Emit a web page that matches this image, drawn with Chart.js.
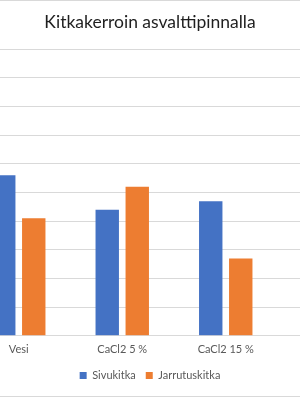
<!DOCTYPE html>
<html lang="fi">
<head>
<meta charset="UTF-8">
<title>Kitkakerroin asvalttipinnalla</title>
<script src="https://cdn.jsdelivr.net/npm/chart.js@4/dist/chart.umd.min.js"></script>
<style>
    * { margin: 0; padding: 0; box-sizing: border-box; }
    body { width: 300px; height: 397px; overflow: hidden; background: #fff; position: relative; }
    /* the chart is wider than the window: y axis and right edge are cut off like in the picture */
    #wrap { position: absolute; left: -81px; top: 0; width: 462px; height: 397px; }
</style>
</head>
<body>
<div id="wrap"><canvas id="chart" width="462" height="397"></canvas></div>
<script>
    // Data (y axis 0 ... 1, step 0.1)
    const categories = ['Vesi', 'CaCl2 5 %', 'CaCl2 15 %', ''];
    const sivukitka = [0.56, 0.44, 0.47, null];
    const jarrutuskitka = [0.41, 0.52, 0.27, null];

    const textColor = '#595959';
    const gridColor = '#d9d9d9';

    // thin frame lines at top and bottom of the chart box
    const framePlugin = {
        id: 'frame',
        afterDraw(chart) {
            const ctx = chart.ctx;
            ctx.save();
            ctx.strokeStyle = gridColor;
            ctx.lineWidth = 1;
            ctx.beginPath();
            ctx.moveTo(0, 0.5);
            ctx.lineTo(chart.width, 0.5);
            ctx.moveTo(0, chart.height - 0.5);
            ctx.lineTo(chart.width, chart.height - 0.5);
            ctx.stroke();
            ctx.restore();
        }
    };

    new Chart(document.getElementById('chart'), {
        type: 'bar',
        data: {
            labels: categories,
            datasets: [
                { label: 'Sivukitka', data: sivukitka, backgroundColor: '#4472C4' },
                { label: 'Jarrutuskitka', data: jarrutuskitka, backgroundColor: '#ED7D31' }
            ]
        },
        options: {
            responsive: false,
            animation: false,
            layout: { padding: { bottom: 6 } },
            categoryPercentage: 0.58,
            barPercentage: 0.78,
            plugins: {
                title: {
                    display: true,
                    text: 'Kitkakerroin asvalttipinnalla',
                    color: '#1f1f1f',
                    font: { family: 'Lato', size: 17.5, weight: 'normal' },
                    padding: { top: 12, bottom: 16.3 }
                },
                legend: {
                    position: 'bottom',
                    labels: {
                        boxWidth: 7,
                        boxHeight: 7,
                        color: textColor,
                        font: { family: 'Lato', size: 11 }
                    }
                },
                tooltip: { enabled: false }
            },
            scales: {
                x: {
                    grid: { display: false, drawTicks: false },
                    border: { display: false },
                    ticks: { color: textColor, font: { family: 'Lato', size: 11 }, padding: 7 },
                    afterFit(scale) { scale.height -= 3; }
                },
                y: {
                    min: 0,
                    max: 1,
                    ticks: { display: false, stepSize: 0.1 },
                    grid: { color: gridColor, drawTicks: false },
                    border: { display: false },
                    afterFit(scale) { scale.width = 48; }
                }
            }
        },
        plugins: [framePlugin]
    });
</script>
</body>
</html>
